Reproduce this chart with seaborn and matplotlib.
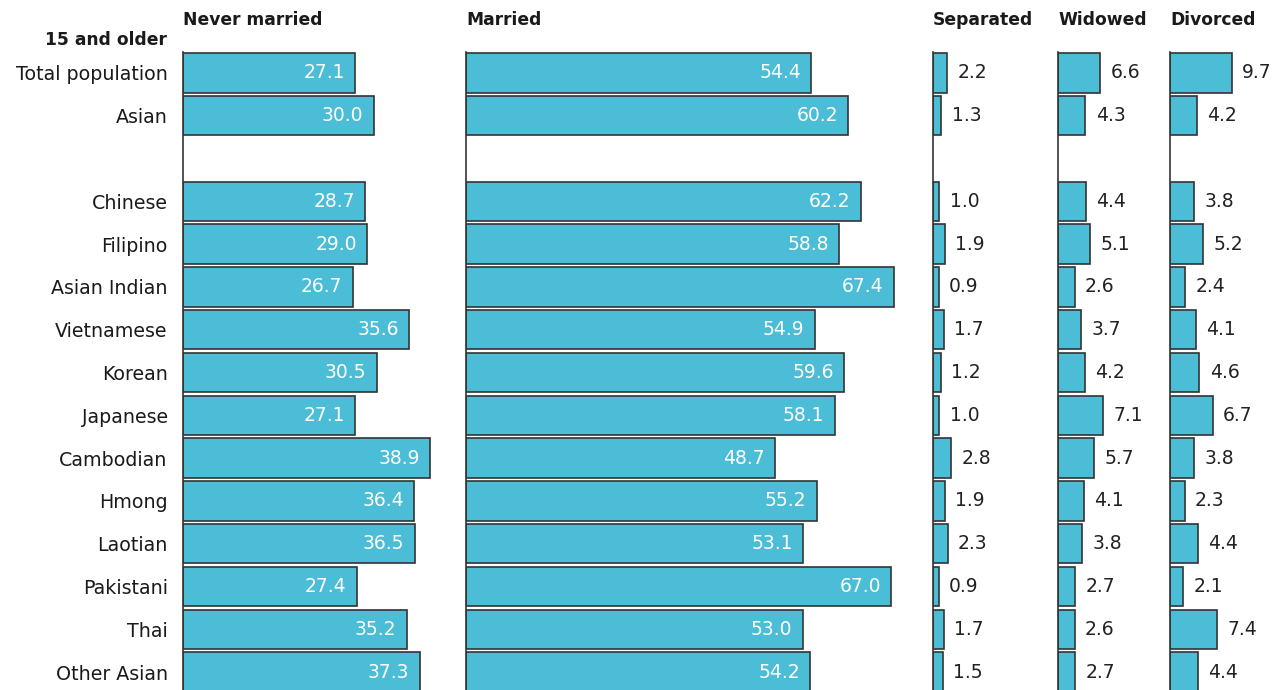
import matplotlib.pyplot as plt
import matplotlib
import numpy as np
import pandas as pd
import seaborn as sb

sb.set_style("white")
matplotlib.rcParams['font.family'] = ['DejaVu Sans']

categories = ["Total population", "Asian", "Chinese", "Filipino", "Asian Indian",
              "Vietnamese", "Korean", "Japanese", "Cambodian", "Hmong", "Laotian",
              "Pakistani", "Thai", "Other Asian"]
never_married = [27.1, 30.0, 28.7, 29.0, 26.7, 35.6, 30.5, 27.1, 38.9, 36.4, 36.5, 27.4, 35.2, 37.3]
married = [54.4, 60.2, 62.2, 58.8, 67.4, 54.9, 59.6, 58.1, 48.7, 55.2, 53.1, 67.0, 53.0, 54.2]
separated = [2.2, 1.3, 1.0, 1.9, 0.9, 1.7, 1.2, 1.0, 2.8, 1.9, 2.3, 0.9, 1.7, 1.5]
widowed = [6.6, 4.3, 4.4, 5.1, 2.6, 3.7, 4.2, 7.1, 5.7, 4.1, 3.8, 2.7, 2.6, 2.7]
divorced = [9.7, 4.2, 3.8, 5.2, 2.4, 4.1, 4.6, 6.7, 3.8, 2.3, 4.4, 2.1, 7.4, 4.4]

# blank slot between "Asian" and the detailed groups
order = categories[:2] + [" "] + categories[2:]

df = pd.DataFrame({"group": categories, "Never married": never_married, "Married": married,
                   "Separated": separated, "Widowed": widowed, "Divorced": divorced})

W, H = 1279, 690
barColor = "#4bbdd6"
edgeColor = "#333333"
scale = 6.35  # pixels per percentage point, shared by all panels

# (column, left px, right px, label inside?)
panels = [("Never married", 183, 458, True),
          ("Married", 466, 922, True),
          ("Separated", 933, 1052, False),
          ("Widowed", 1058, 1164, False),
          ("Divorced", 1170, 1279, False)]

fig = plt.figure(figsize=(W / 100, H / 100), dpi=100)
rowPx = 42.86
topPx = 72 - rowPx / 2 + 1
nslots = len(order)
bottomSlot = (nslots - 1) + (H - (72 + (nslots - 1) * rowPx)) / rowPx

for i, (col, x0, x1, inside) in enumerate(panels):
    ax = fig.add_axes([x0 / W, 0, (x1 - x0) / W, 1 - topPx / H])
    sb.barplot(data=df, x=col, y="group", order=order, orient="h", color=barColor,
               saturation=1, edgecolor=edgeColor, linewidth=1.2, width=0.92, ax=ax)
    ax.set_xlim(0, (x1 - x0) / scale)
    ax.set_ylim(bottomSlot, -0.5)
    ax.set_xlabel("")
    ax.set_ylabel("")
    ax.set_xticks([])
    for s in ["top", "right", "bottom"]:
        ax.spines[s].set_visible(False)
    ax.spines["left"].set_color(edgeColor)
    ax.spines["left"].set_linewidth(1.2)
    if i == 0:
        ax.tick_params(axis="y", length=0, pad=11, labelsize=13.7, labelcolor="#1a1a1a")
    else:
        ax.set_yticks([])
    for name, v in zip(df["group"], df[col]):
        yy = order.index(name)
        if inside:
            ax.annotate(f"{v:.1f}", (v, yy), xytext=(-7.5, 0), textcoords="offset points",
                        ha="right", va="center", color="white", fontsize=13.5)
        else:
            ax.annotate(f"{v:.1f}", (v, yy), xytext=(7.5, 0), textcoords="offset points",
                        ha="left", va="center", color="#222222", fontsize=13.5)
    fig.text(x0 / W, 1 - 20 / H, col, ha="left", va="center", fontsize=12.3,
             fontweight="bold", color="#1a1a1a")

fig.text(167 / W, 1 - 40 / H, "15 and older", ha="right", va="center", fontsize=12.3,
         fontweight="bold", color="#1a1a1a")

plt.savefig("out.png", dpi=100)
